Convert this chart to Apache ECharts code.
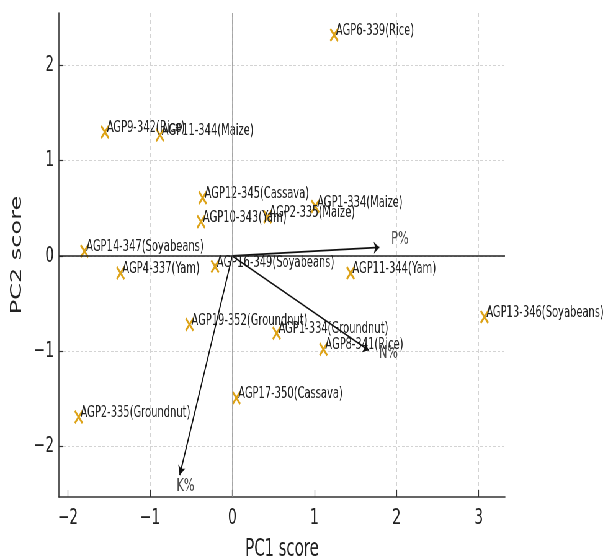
<!DOCTYPE html>
<html>
<head>
<meta charset="utf-8">
<script src="https://cdn.jsdelivr.net/npm/echarts@6/dist/echarts.min.js"></script>
<style>
html,body{margin:0;padding:0;background:#fff;}
#wrap{width:608px;height:559px;overflow:hidden;position:relative;}
#main{width:980px;height:559px;transform:scaleX(0.62041);transform-origin:0 0;}
</style>
</head>
<body>
<div id="wrap"><div id="main"></div></div>
<script>
// Sample names and PCA scores
const names = [
  'AGP6-339(Rice)', 'AGP9-342(Rice)', 'AGP11-344(Maize)', 'AGP12-345(Cassava)',
  'AGP10-343(Yam)', 'AGP2-335(Maize)', 'AGP1-334(Maize)', 'AGP14-347(Soyabeans)',
  'AGP4-337(Yam)', 'AGP16-349(Soyabeans)', 'AGP11-344(Yam)', 'AGP13-346(Soyabeans)',
  'AGP19-352(Groundnut)', 'AGP1-334(Groundnut)', 'AGP8-341(Rice)', 'AGP17-350(Cassava)',
  'AGP2-335(Groundnut)'
];
const pc1 = [1.24, -1.55, -0.88, -0.36, -0.38, 0.43, 1.01, -1.80, -1.36, -0.21, 1.44, 3.07, -0.52, 0.54, 1.11, 0.05, -1.87];
const pc2 = [2.32, 1.30, 1.27, 0.61, 0.36, 0.41, 0.52, 0.05, -0.18, -0.11, -0.18, -0.64, -0.72, -0.81, -0.98, -1.49, -1.69];

// Loading vectors (arrow tips) and their label positions
const loadNames = ['P%', 'N%', 'K%'];
const loadX = [1.79, 1.66, -0.64];
const loadY = [0.09, -0.99, -2.30];
const loadLabelX = [2.04, 1.90, -0.57];
const loadLabelY = [0.17, -1.02, -2.42];

const ticksX = [-2, -1, 0, 1, 2, 3];
const ticksY = [-2, -1, 0, 1, 2];

const xMark = 'path://M0,1.3L1.3,0L5,3.7L8.7,0L10,1.3L6.3,5L10,8.7L8.7,10L5,6.3L1.3,10L0,8.7L3.7,5Z';
const FONT = 'DejaVu Sans';
const minus = v => String(v).replace('-', '\u2212');

const chart = echarts.init(document.getElementById('main'));

const axisCommon = {
  axisLine: { onZero: false, lineStyle: { color: '#333', width: 1.6 } },
  axisTick: { inside: true, length: 7, lineStyle: { color: '#333', width: 1.2 } },
  splitLine: { show: true, lineStyle: { color: '#d3d3d3', width: 1, type: [4, 3] } },
  nameLocation: 'middle',
  nameTextStyle: { fontFamily: FONT, fontSize: 24, color: '#222' }
};

chart.setOption({
  backgroundColor: '#fff',
  animation: false,
  grid: { left: 95, right: 166, top: 13, bottom: 62, containLabel: false, outerBoundsMode: 'none' },
  xAxis: Object.assign({}, axisCommon, {
    type: 'value', min: -2.11, max: 3.32,
    name: 'PC1 score', nameGap: 41,
    axisTick: Object.assign({}, axisCommon.axisTick, { customValues: ticksX }),
    axisLabel: { customValues: ticksX, formatter: minus, margin: 10, fontFamily: FONT, fontSize: 22, color: '#222' }
  }),
  yAxis: Object.assign({}, axisCommon, {
    type: 'value', min: -2.53, max: 2.55,
    name: 'PC2 score', nameGap: 55,
    axisTick: Object.assign({}, axisCommon.axisTick, { customValues: ticksY }),
    axisLabel: { customValues: ticksY, formatter: minus, margin: 8, fontFamily: FONT, fontSize: 22, color: '#222' }
  }),
  series: [
    {
      type: 'scatter',
      symbol: xMark,
      symbolSize: 14,
      itemStyle: { color: '#DDA318', opacity: 1 },
      z: 3,
      data: pc1.map((x, i) => ({ name: names[i], value: [x, pc2[i]] })),
      label: {
        show: true, formatter: p => p.name,
        position: [10, 11], align: 'left', verticalAlign: 'bottom',
        fontFamily: FONT, fontSize: 16, color: '#222'
      },
      markLine: {
        silent: true, symbol: 'none', label: { show: false }, animation: false,
        data: [
          { xAxis: 0, lineStyle: { color: '#9a9a9a', width: 1.6, type: 'solid' } },
          { yAxis: 0, lineStyle: { color: '#222', width: 1.6, type: 'solid' } }
        ]
      }
    },
    {
      type: 'lines',
      coordinateSystem: 'cartesian2d',
      symbol: ['none', 'arrow'],
      symbolSize: [0, 9],
      z: 4,
      lineStyle: { color: '#111', width: 1.8, opacity: 1 },
      data: loadX.map((x, i) => ({ coords: [[0, 0], [x, loadY[i]]] }))
    },
    {
      type: 'scatter',
      symbolSize: 0,
      z: 5,
      data: loadLabelX.map((x, i) => ({ name: loadNames[i], value: [x, loadLabelY[i]] })),
      label: {
        show: true, formatter: p => p.name, position: 'inside',
        fontFamily: FONT, fontSize: 18, color: '#222'
      }
    }
  ]
});
</script>
</body>
</html>
